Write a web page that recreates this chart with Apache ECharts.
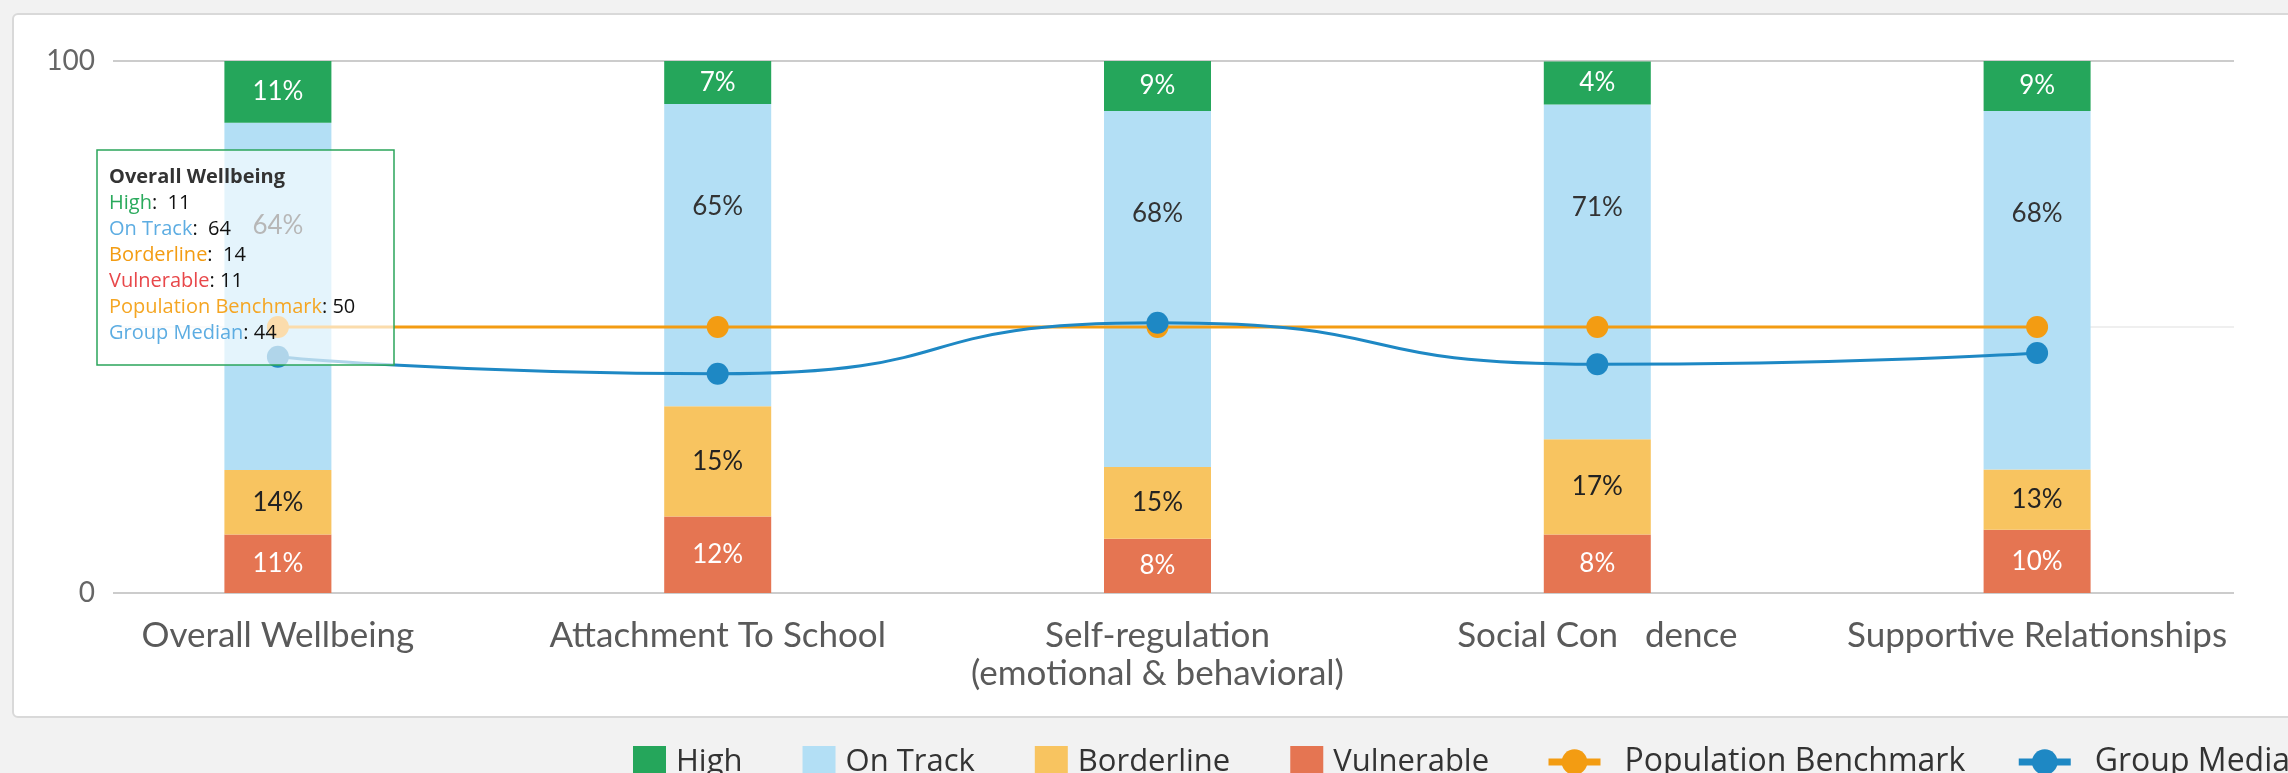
<!DOCTYPE html>
<html>
<head>
<meta charset="utf-8">
<title>Wellbeing Overview</title>
<script src="https://cdn.jsdelivr.net/npm/echarts@6/dist/echarts.min.js"></script>
<style>
  html, body { margin: 0; padding: 0; width: 2288px; height: 773px; overflow: hidden; background: #f2f2f2; }
  .card { position: absolute; left: 12px; top: 13px; width: 2320px; height: 701px; background: #fff; border: 2px solid #d9d9d9; border-radius: 6px; }
  #chart { position: absolute; left: 0; top: 0; width: 2288px; height: 773px; }
</style>
</head>
<body>
<div class="card"></div>
<div id="chart"></div>
<script>
// 类目
var categories = ['Overall Wellbeing', 'Attachment To School', 'Self-regulation\n(emotional & behavioral)', 'Social Con   dence', 'Supportive Relationships'];

// bar heights as drawn
var high = [11.6, 8.1, 9.6, 8.1, 9.6];
var onTrack = [65.3, 56.8, 66.9, 62.9, 67.4];
var borderline = [12.1, 20.7, 13.5, 17.9, 11.3];
var vulnerable = [11.0, 14.4, 10.2, 11.0, 11.9];

// percentages printed on the bars
var highPct = [11, 7, 9, 4, 9];
var onTrackPct = [64, 65, 68, 71, 68];
var borderlinePct = [14, 15, 15, 17, 13];
var vulnerablePct = [11, 12, 8, 8, 10];

// lines
var benchmark = [50, 50, 50, 50, 50];
var median = [44.4, 41.2, 50.8, 43.0, 45.1];

var yTicks = [0, 50, 100];

var colors = {
  high: '#25a65b',
  onTrack: '#b3dff5',
  borderline: '#f8c460',
  vulnerable: '#e57552',
  benchmark: '#f39c12',
  median: '#1e88c4'
};

function barSeries(name, values, pcts, color, labelColor, onTop) {
  return {
    name: name,
    type: 'bar',
    stack: 'total',
    barWidth: 107,
    xAxisIndex: 0,
    yAxisIndex: 0,
    itemStyle: { color: color },
    label: {
      show: true,
      position: onTop ? 'insideTop' : 'inside',
      distance: onTop ? 90 : 5,
      color: labelColor,
      fontFamily: 'Lato',
      fontSize: 26,
      formatter: function(p) {
        return pcts[p.dataIndex] + '%';
      }
    },
    emphasis: { disabled: true },
    data: values
  };
}

function lineSeries(name, values, color, smooth) {
  return {
    name: name,
    type: 'line',
    xAxisIndex: 0,
    yAxisIndex: 0,
    smooth: smooth,
    symbol: 'circle',
    symbolSize: 22,
    itemStyle: { color: color },
    lineStyle: { color: color, width: 3 },
    emphasis: { disabled: true },
    data: values
  };
}

// tooltip box (static, first category)
var tipNames = ['High', 'On Track', 'Borderline', 'Vulnerable', 'Population Benchmark', 'Group Median'];
var tipColors = ['#2aaa5c', '#5dade2', '#f39c12', '#e8474a', '#f5a623', '#5dade2'];
var tipPad = ['  ', '  ', '  ', ' ', ' ', ' '];
var tipValues = [highPct[0], onTrackPct[0], borderlinePct[0], vulnerablePct[0], benchmark[0], Math.round(median[0])];
var tipRich = {
  t: { fontFamily: 'Open Sans', fontWeight: 'bold', fontSize: 20, fill: '#333', lineHeight: 26 },
  v: { fontFamily: 'Open Sans', fontSize: 20, fill: '#111', lineHeight: 26 }
};
var tipLines = ['{t|' + categories[0] + '}'];
tipNames.forEach(function(n, i) {
  tipRich['s' + i] = { fontFamily: 'Open Sans', fontSize: 20, fill: tipColors[i], lineHeight: 26 };
  tipLines.push('{s' + i + '|' + n + '}{v|:' + tipPad[i] + tipValues[i] + '}');
});

var option = {
  backgroundColor: 'transparent',
  animation: false,
  grid: [
    { left: 58, right: 31, top: 61, height: 532 },
    { left: 113, right: 54, top: 61, height: 532 }
  ],
  xAxis: [
    {
      type: 'category',
      gridIndex: 0,
      data: categories,
      axisLine: { show: false },
      axisTick: { show: false },
      axisLabel: {
        interval: 0,
        margin: 24,
        color: '#5a5a5a',
        fontFamily: 'Lato',
        fontSize: 35,
        lineHeight: 38
      }
    },
    { type: 'value', gridIndex: 1, show: false }
  ],
  yAxis: [
    { type: 'value', gridIndex: 0, min: 0, max: 100, show: false },
    {
      type: 'value',
      gridIndex: 1,
      min: yTicks[0],
      max: yTicks[yTicks.length - 1],
      interval: 50,
      axisLine: { show: false },
      axisTick: { show: false },
      axisLabel: {
        margin: 18,
        color: '#666',
        fontFamily: 'Lato',
        fontSize: 28,
        formatter: function(v) {
          return v === 50 ? '' : v;
        }
      },
      splitLine: {
        lineStyle: { color: ['#cccccc', '#efefef', '#cccccc'], width: 2 }
      }
    }
  ],
  legend: [
    {
      left: 628,
      top: 741,
      width: 1200,
      icon: 'rect',
      itemWidth: 33,
      itemHeight: 33,
      itemGap: 60,
      selectedMode: false,
      textStyle: { fontFamily: 'Open Sans', fontSize: 31, color: '#333', padding: [0, 0, 0, 5] },
      data: ['High', 'On Track', 'Borderline', 'Vulnerable']
    },
    {
      left: 1540,
      top: 741,
      width: 1200,
      itemWidth: 52,
      itemHeight: 32,
      itemGap: 50,
      selectedMode: false,
      lineStyle: { width: 7 },
      textStyle: { fontFamily: 'Open Sans', fontSize: 32, color: '#333', padding: [0, 0, 0, 19] },
      data: ['Population Benchmark', 'Group Median']
    }
  ],
  series: [
    barSeries('Vulnerable', vulnerable, vulnerablePct, colors.vulnerable, '#fff', false),
    barSeries('Borderline', borderline, borderlinePct, colors.borderline, '#222', false),
    barSeries('On Track', onTrack, onTrackPct, colors.onTrack, '#333', true),
    barSeries('High', high, highPct, colors.high, '#fff', false),
    lineSeries('Population Benchmark', benchmark, colors.benchmark, false),
    lineSeries('Group Median', median, colors.median, 0.6)
  ],
  graphic: [
    {
      type: 'rect',
      z: 100,
      shape: { x: 97, y: 150, width: 297, height: 215 },
      style: { fill: 'rgba(255,255,255,0.65)', stroke: '#2ba55b', lineWidth: 1.5 }
    },
    {
      type: 'text',
      z: 101,
      x: 109,
      y: 164,
      style: { text: tipLines.join('\n'), rich: tipRich, lineHeight: 26 }
    }
  ]
};

var myChart = echarts.init(document.getElementById('chart'));
myChart.setOption(option);
</script>
</body>
</html>
